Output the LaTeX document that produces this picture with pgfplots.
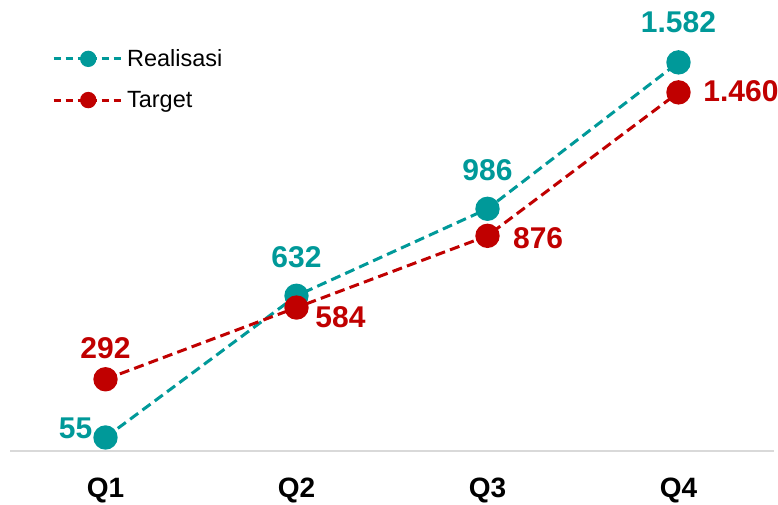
\documentclass[border=0pt]{standalone}
\usepackage{pgfplots}
\pgfplotsset{compat=1.18}
\usepackage{fontspec}
\setmainfont{Liberation Sans}
\definecolor{tealc}{RGB}{0,153,153}
\definecolor{redc}{RGB}{192,0,0}
\definecolor{axgray}{RGB}{217,217,217}
\pgfplotsset{
  lbl/.style n args={4}{forget plot, draw=none, mark=none, color=#1,
    nodes near coords, point meta=explicit symbolic,
    every node near coord/.style={anchor=#2, xshift=#3, yshift=#4, inner sep=0pt,
      font=\bfseries\fontsize{22.5}{23}\selectfont, text=#1}},
  ser/.style={#1, line width=2.25pt, dash pattern=on 7.5pt off 4pt, mark=*, mark size=8pt, mark options={solid}},
}
\begin{document}
\begin{tikzpicture}
\path[use as bounding box] (-7.5pt,-39.75pt) rectangle (576pt,338.25pt);
\begin{axis}[
  at={(0pt,0pt)}, anchor=south west,
  scale only axis, width=573pt, height=338.25pt,
  xmin=-0.5, xmax=3.5, ymin=0, ymax=1836,
  axis x line*=bottom, axis y line=none,
  x axis line style={draw=axgray, line width=1.1pt, -},
  xtick={0,1,2,3}, xticklabels={Q1,Q2,Q3,Q4},
  major tick length=0pt,
  xticklabel style={font=\bfseries\fontsize{21}{21}\selectfont, anchor=north, inner sep=0pt, yshift=-20pt},
  clip=false,
  legend style={draw=none, fill=none, at={(0.0495,0.903)}, anchor=north west,
    font=\fontsize{17.6}{18}\selectfont, row sep=13pt},
  legend cell align=left,
  legend image code/.code={
    \draw[#1, dash pattern=on 5.5pt off 3.5pt, mark repeat=2, mark phase=2, mark size=5pt] plot coordinates {(0pt,0pt) (26pt,0pt) (52pt,0pt)};
  },
]
\addplot[ser=tealc] coordinates {(0,55) (1,632) (2,986) (3,1582)};
\addlegendentry{Realisasi}
\addplot[ser=redc] coordinates {(0,292) (1,584) (2,876) (3,1460)};
\addlegendentry{Target}
% data labels
\addplot[lbl={tealc}{east}{-9.75pt}{6.75pt}] coordinates {(0,55)[55]};
\addplot[lbl={tealc}{south}{0pt}{21pt}] coordinates {(1,632)[632] (2,986)[986]};
\addplot[lbl={tealc}{south}{0pt}{21.75pt}] coordinates {(3,1582)[1.582]};
\addplot[lbl={redc}{south}{0pt}{15pt}] coordinates {(0,292)[292]};
\addplot[lbl={redc}{west}{14pt}{-7.5pt}] coordinates {(1,584)[584]};
\addplot[lbl={redc}{west}{19pt}{-1.5pt}] coordinates {(2,876)[876]};
\addplot[lbl={redc}{west}{18.5pt}{0.75pt}] coordinates {(3,1460)[1.460]};
\end{axis}
\end{tikzpicture}
\end{document}
